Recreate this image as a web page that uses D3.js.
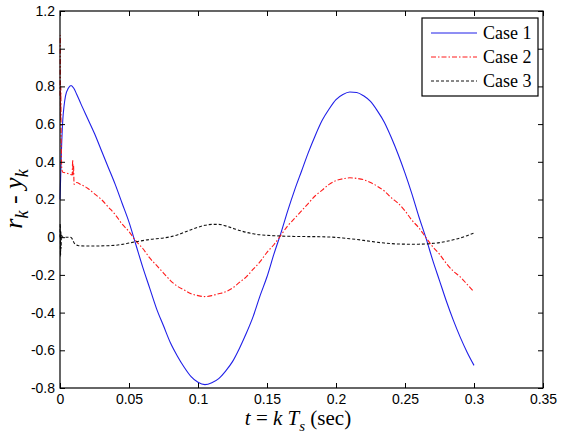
<!DOCTYPE html>
<html><head><meta charset="utf-8">
<script src="https://cdn.jsdelivr.net/npm/d3@7"></script>
<style>
html,body{margin:0;padding:0;background:#fff;}
svg{display:block;}
</style></head>
<body>
<svg id="chart" width="565" height="441"></svg>
<script>
// ---------- data ----------
const seriesNames = ["Case 1", "Case 2", "Case 3"];
const xTicks = [0, 0.05, 0.1, 0.15, 0.2, 0.25, 0.3, 0.35];
const xTickLabels = ["0", "0.05", "0.1", "0.15", "0.2", "0.25", "0.3", "0.35"];
const yTicks = [-0.8, -0.6, -0.4, -0.2, 0, 0.2, 0.4, 0.6, 0.8, 1, 1.2];
const yTickLabels = ["-0.8", "-0.6", "-0.4", "-0.2", "0", "0.2", "0.4", "0.6", "0.8", "1", "1.2"];

// start-up transients (t < 0.015)
const case1StartT = [0, 0.001, 0.002, 0.003, 0.004, 0.006, 0.008, 0.010, 0.012];
const case1StartY = [0.2, 0.45, 0.62, 0.70, 0.75, 0.79, 0.805, 0.79, 0.76];
const case2StartT = [0, 0.0002, 0.0004, 0.0006, 0.0008, 0.001, 0.0013, 0.002, 0.005, 0.0088, 0.0092, 0.0095, 0.0098, 0.0102, 0.012];
const case2StartY = [0.75, 1.07, 0.62, 0.8, 0.55, 0.45, 0.36, 0.345, 0.34, 0.33, 0.41, 0.33, 0.38, 0.28, 0.29];
const case3StartT = [0, 0.0002, 0.0004, 0.0006, 0.0008, 0.001, 0.002, 0.007, 0.0085, 0.0095, 0.011, 0.013];
const case3StartY = [0, 0.07, -0.10, 0.03, -0.06, 0.01, 0.0, 0.0, -0.005, -0.02, -0.038, -0.044];

// main part (t = 0.015 ... 0.3)
const tMain = [0.015, 0.02, 0.025, 0.03, 0.035, 0.04, 0.045, 0.05, 0.055, 0.06,
  0.065, 0.07, 0.075, 0.08, 0.085, 0.09, 0.095, 0.1, 0.105, 0.11,
  0.115, 0.12, 0.125, 0.13, 0.135, 0.14, 0.145, 0.15, 0.155, 0.16,
  0.165, 0.17, 0.175, 0.18, 0.185, 0.19, 0.195, 0.2, 0.205, 0.21,
  0.215, 0.22, 0.225, 0.23, 0.235, 0.24, 0.245, 0.25, 0.255, 0.26,
  0.265, 0.27, 0.275, 0.28, 0.285, 0.29, 0.295, 0.3];
const case1Main = [0.71, 0.63, 0.55, 0.46, 0.37, 0.28, 0.18, 0.08, -0.04, -0.16,
  -0.27, -0.38, -0.47, -0.56, -0.63, -0.69, -0.74, -0.77, -0.782, -0.772,
  -0.75, -0.71, -0.66, -0.59, -0.51, -0.42, -0.31, -0.21, -0.09, 0.02,
  0.14, 0.25, 0.35, 0.45, 0.54, 0.62, 0.68, 0.73, 0.757, 0.77,
  0.768, 0.75, 0.72, 0.67, 0.61, 0.53, 0.44, 0.34, 0.23, 0.11,
  0.00, -0.12, -0.23, -0.34, -0.44, -0.53, -0.61, -0.68];
const case2Main = [0.28, 0.26, 0.23, 0.20, 0.16, 0.12, 0.07, 0.03, -0.02, -0.06,
  -0.11, -0.15, -0.19, -0.23, -0.26, -0.28, -0.30, -0.31, -0.315, -0.31,
  -0.30, -0.29, -0.27, -0.24, -0.21, -0.17, -0.13, -0.08, -0.04, 0.01,
  0.06, 0.10, 0.14, 0.18, 0.22, 0.25, 0.28, 0.30, 0.31, 0.315,
  0.312, 0.305, 0.29, 0.27, 0.245, 0.21, 0.18, 0.14, 0.09, 0.05,
  0.00, -0.05, -0.09, -0.14, -0.18, -0.21, -0.25, -0.29];
const case3Main = [-0.046, -0.047, -0.047, -0.046, -0.045, -0.043, -0.038, -0.031, -0.024, -0.018,
  -0.012, -0.008, -0.004, 0.002, 0.012, 0.026, 0.040, 0.053, 0.063, 0.068,
  0.068, 0.060, 0.048, 0.036, 0.026, 0.018, 0.013, 0.010, 0.008, 0.006,
  0.005, 0.004, 0.004, 0.003, 0.003, 0.002, 0.001, -0.001, -0.004, -0.008,
  -0.012, -0.017, -0.022, -0.027, -0.031, -0.034, -0.036, -0.037, -0.037, -0.037,
  -0.036, -0.033, -0.029, -0.022, -0.014, -0.004, 0.008, 0.022];

// ---------- layout ----------
const M = {left: 60, right: 543, top: 11, bottom: 388};
const svg = d3.select("#chart");
const x = d3.scaleLinear().domain([0, 0.35]).range([M.left, M.right]);
const y = d3.scaleLinear().domain([-0.8, 1.2]).range([M.bottom, M.top]);

function pts(ts, ys) { return ts.map((t, i) => [t, ys[i]]); }
const series = [
  {name: seriesNames[0], color: "#1f1fe8", dash: null,
   data: pts(case1StartT, case1StartY).concat(pts(tMain, case1Main))},
  {name: seriesNames[1], color: "#ff1a1a", dash: "5,2,1.5,2",
   data: pts(case2StartT, case2StartY).concat(pts(tMain, case2Main))},
  {name: seriesNames[2], color: "#111", dash: "3,2",
   data: pts(case3StartT, case3StartY).concat(pts(tMain, case3Main))}
];

const line = d3.line().x(d => x(d[0])).y(d => y(d[1])).curve(d3.curveMonotoneX);

const gLines = svg.append("g");
series.forEach(s => {
  gLines.append("path").datum(s.data)
    .attr("d", line)
    .attr("fill", "none")
    .attr("stroke", s.color)
    .attr("stroke-width", 1.1)
    .attr("stroke-dasharray", s.dash);
});

// axes (ticks inward, MATLAB style)
const fmtX = (d, i) => xTickLabels[i];
const fmtY = (d, i) => yTickLabels[i];
const axFont = "Liberation Sans, Arial, sans-serif";

const gB = svg.append("g").attr("transform", `translate(0,${M.bottom})`)
  .call(d3.axisBottom(x).tickValues(xTicks).tickFormat(fmtX).tickSizeInner(-5).tickSizeOuter(0).tickPadding(6));
const gT = svg.append("g").attr("transform", `translate(0,${M.top})`)
  .call(d3.axisTop(x).tickValues(xTicks).tickFormat("").tickSizeInner(-5).tickSizeOuter(0));
const gL = svg.append("g").attr("transform", `translate(${M.left},0)`)
  .call(d3.axisLeft(y).tickValues(yTicks).tickFormat(fmtY).tickSizeInner(-5).tickSizeOuter(0).tickPadding(5));
const gR = svg.append("g").attr("transform", `translate(${M.right},0)`)
  .call(d3.axisRight(y).tickValues(yTicks).tickFormat("").tickSizeInner(-5).tickSizeOuter(0));

[gB, gT, gL, gR].forEach(g => {
  g.select(".domain").remove();
  g.selectAll("line").attr("stroke", "#000").attr("stroke-width", 1);
  g.selectAll("text").attr("font-family", axFont).attr("font-size", 14).attr("fill", "#000");
});
gB.selectAll("text").attr("dy", "0.71em");

// plot box
svg.append("rect")
  .attr("x", M.left).attr("y", M.top)
  .attr("width", M.right - M.left).attr("height", M.bottom - M.top)
  .attr("fill", "none").attr("stroke", "#000").attr("stroke-width", 1.2);

// legend
const lg = svg.append("g");
lg.append("rect").attr("x", 422).attr("y", 18).attr("width", 116).attr("height", 78)
  .attr("fill", "#fff").attr("stroke", "#000").attr("stroke-width", 1.2);
const legY = [33, 57, 81];
series.forEach((s, i) => {
  lg.append("line").attr("x1", 431).attr("x2", 477).attr("y1", legY[i]).attr("y2", legY[i])
    .attr("stroke", s.color).attr("stroke-width", 1).attr("stroke-dasharray", s.dash);
  lg.append("text").attr("x", 483).attr("y", legY[i] + 6)
    .attr("font-family", "Liberation Serif, Times New Roman, serif").attr("font-size", 18)
    .attr("fill", "#000").text(s.name);
});

// axis titles
const serif = "Liberation Serif, Times New Roman, serif";
const xl = svg.append("text").attr("x", 298).attr("y", 425)
  .attr("text-anchor", "middle").attr("font-family", serif).attr("font-size", 21).attr("fill", "#000");
xl.append("tspan").attr("font-style", "italic").text("t");
xl.append("tspan").text(" = ");
xl.append("tspan").attr("font-style", "italic").text("k T");
xl.append("tspan").attr("font-style", "italic").attr("font-size", 15).attr("dy", 6).text("s");
xl.append("tspan").attr("dy", -6).text(" (sec)");

const yl = svg.append("text").attr("transform", "translate(22,199) rotate(-90)")
  .attr("text-anchor", "middle").attr("font-family", serif).attr("font-size", 26).attr("fill", "#000");
yl.append("tspan").attr("font-style", "italic").text("r");
yl.append("tspan").attr("font-style", "italic").attr("font-size", 18).attr("dy", 6).text("k");
yl.append("tspan").attr("dy", -6).text(" - ");
yl.append("tspan").attr("font-style", "italic").text("y");
yl.append("tspan").attr("font-style", "italic").attr("font-size", 18).attr("dy", 6).text("k");
</script>
</body></html>
